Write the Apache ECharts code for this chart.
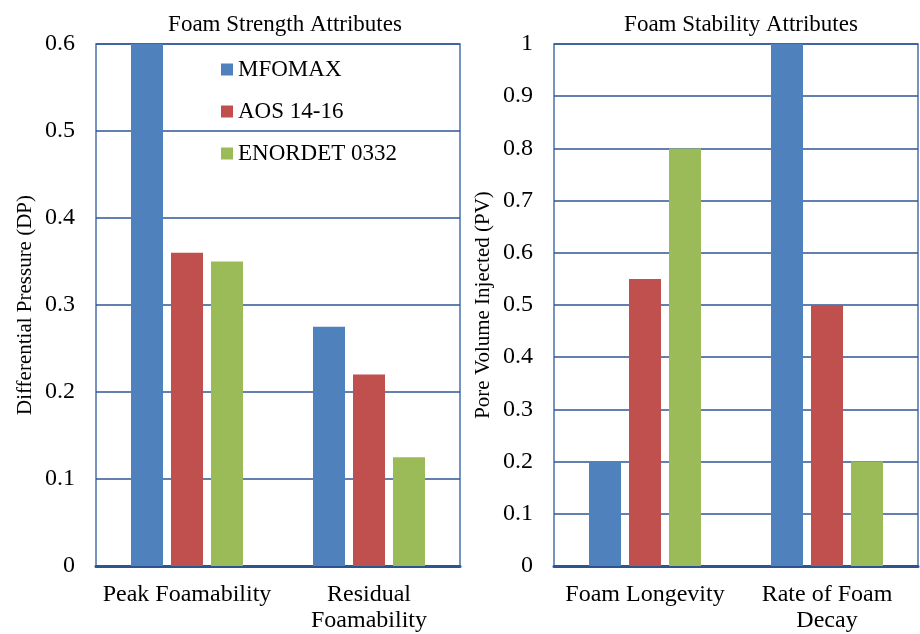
<!DOCTYPE html>
<html>
<head>
<meta charset="utf-8">
<script src="https://cdn.jsdelivr.net/npm/echarts@6/dist/echarts.min.js"></script>
<style>html,body{margin:0;padding:0;background:#fff}#c{width:920px;height:634px}</style>
</head>
<body>
<div id="c"></div>
<script>
const seriesNames = ['MFOMAX', 'AOS 14-16', 'ENORDET 0332'];
const strengthCategories = ['Peak Foamability', 'Residual\nFoamability'];
const stabilityCategories = ['Foam Longevity', 'Rate of Foam\nDecay'];
const strengthMFOMAX = [0.6, 0.275];
const strengthAOS = [0.36, 0.22];
const strengthENORDET = [0.35, 0.125];
const stabilityMFOMAX = [0.2, 1.0];
const stabilityAOS = [0.55, 0.5];
const stabilityENORDET = [0.8, 0.2];
const colors = ['#4F81BD', '#C0504D', '#9BBB59'];

const FONT = '"Liberation Serif", "Times New Roman", serif';
const chart = echarts.init(document.getElementById('c'), null, {renderer: 'canvas'});

function yAxisCfg(gi, max, name, gap) {
  return {
    type: 'value', gridIndex: gi, min: 0, max: max, interval: 0.1,
    name: name, nameLocation: 'middle', nameRotate: 90, nameGap: gap,
    nameTextStyle: {fontFamily: FONT, fontSize: 21, color: '#000'},
    axisLine: {show: false}, axisTick: {show: false},
    axisLabel: {fontFamily: FONT, fontSize: 24, color: '#000', margin: 21},
    splitLine: {show: true, lineStyle: {color: '#2E5596', width: 1.5}}
  };
}
function xAxisCfg(gi, cats) {
  return {
    type: 'category', gridIndex: gi, data: cats,
    axisLine: {show: true, lineStyle: {color: '#2C5491', width: 3}},
    axisTick: {show: false},
    axisLabel: {fontFamily: FONT, fontSize: 24, color: '#000', margin: 16, lineHeight: 26, interval: 0}
  };
}
function bar(name, data, gi, color) {
  return {
    name: name, type: 'bar', xAxisIndex: gi, yAxisIndex: gi, data: data,
    barWidth: 32, barGap: '25%', itemStyle: {color: color}, animation: false
  };
}

chart.setOption({
  animation: false,
  textStyle: {fontFamily: FONT},
  title: [
    {text: 'Foam Strength Attributes', left: 280, top: 8, textAlign: 'center',
     textStyle: {fontFamily: FONT, fontSize: 23, fontWeight: 'normal', color: '#000'}},
    {text: 'Foam Stability Attributes', left: 736, top: 8, textAlign: 'center',
     textStyle: {fontFamily: FONT, fontSize: 23, fontWeight: 'normal', color: '#000'}}
  ],
  legend: {
    orient: 'vertical', left: 216, top: 53, itemGap: 19, itemWidth: 12, itemHeight: 12,
    icon: 'rect', data: seriesNames,
    textStyle: {fontFamily: FONT, fontSize: 23, color: '#000', padding: [0, 0, 0, 0]}
  },
  grid: [
    {left: 96, right: 460, top: 44, bottom: 67, show: true, borderColor: '#4A70A8', borderWidth: 1.5, backgroundColor: 'transparent'},
    {left: 554, right: 2, top: 44, bottom: 67, show: true, borderColor: '#4A70A8', borderWidth: 1.5, backgroundColor: 'transparent'}
  ],
  xAxis: [xAxisCfg(0, strengthCategories), xAxisCfg(1, stabilityCategories)],
  yAxis: [
    yAxisCfg(0, 0.6, 'Differential Pressure (DP)', 60),
    yAxisCfg(1, 1, 'Pore Volume Injected (PV)', 60)
  ],
  series: [
    bar(seriesNames[0], strengthMFOMAX, 0, colors[0]),
    bar(seriesNames[1], strengthAOS, 0, colors[1]),
    bar(seriesNames[2], strengthENORDET, 0, colors[2]),
    bar(seriesNames[0], stabilityMFOMAX, 1, colors[0]),
    bar(seriesNames[1], stabilityAOS, 1, colors[1]),
    bar(seriesNames[2], stabilityENORDET, 1, colors[2])
  ]
});
</script>
</body>
</html>
